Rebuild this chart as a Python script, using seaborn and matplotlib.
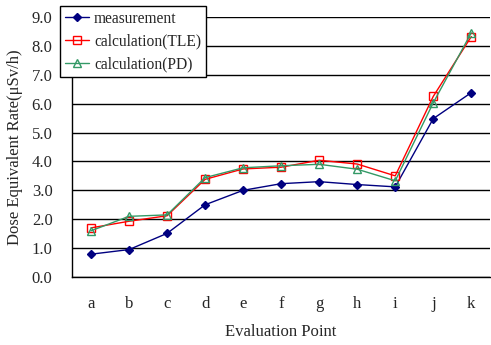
import matplotlib
matplotlib.use("Agg")
import matplotlib.pyplot as plt
import seaborn as sns
import pandas as pd
import numpy as np

points = ["a", "b", "c", "d", "e", "f", "g", "h", "i", "j", "k"]
measurement = [0.79, 0.95, 1.51, 2.50, 3.00, 3.23, 3.30, 3.20, 3.12, 5.48, 6.38]
calc_tle = [1.70, 1.93, 2.12, 3.38, 3.74, 3.80, 4.04, 3.91, 3.50, 6.25, 8.32]
calc_pd = [1.60, 2.10, 2.15, 3.44, 3.78, 3.85, 3.90, 3.73, 3.33, 6.03, 8.45]
yticks = [0.0, 1.0, 2.0, 3.0, 4.0, 5.0, 6.0, 7.0, 8.0, 9.0]

sns.set_style("white")
plt.rcParams["font.family"] = ["Liberation Serif", "DejaVu Serif"]

fig = plt.figure(figsize=(4.91, 3.45), dpi=100)
ax = fig.add_axes([0.1466, 0.197, 0.852, 0.754])

x = np.arange(len(points))
series = [
    ("measurement", measurement, "#000080", "D", "#000080", 4),
    ("calculation(TLE)", calc_tle, "#FF0000", "s", "none", 6),
    ("calculation(PD)", calc_pd, "#339966", "^", "none", 6),
]
for name, vals, col, mk, mfc, ms in series:
    df = pd.DataFrame({"x": x, "y": vals})
    sns.lineplot(data=df, x="x", y="y", ax=ax, color=col, marker=mk,
                 markersize=ms, markerfacecolor=mfc, markeredgecolor=col,
                 markeredgewidth=1.0, linewidth=1.0, label=name)

ax.set_xlim(-0.5, len(points) - 0.5)
ax.set_ylim(0, 9)
ax.set_yticks(yticks)
ax.set_yticklabels([f"{v:.1f}" for v in yticks], fontsize=12)
ax.yaxis.grid(True, color="black", linewidth=1.0)
ax.set_axisbelow(True)
ax.set_xticks(x)
ax.set_xticklabels(points, fontsize=12)
ax.set_xticks(np.arange(0.5, len(points) - 0.5, 1.0), minor=True)
ax.tick_params(axis="x", which="major", length=0, pad=14)
ax.tick_params(axis="x", which="minor", length=4, direction="in", color="black", width=1)
ax.tick_params(axis="y", length=0, pad=14)
for s in ["top", "right"]:
    ax.spines[s].set_visible(False)
for s in ["left", "bottom"]:
    ax.spines[s].set_color("black")
    ax.spines[s].set_linewidth(1.0)

ax.set_xlabel("Evaluation Point", fontsize=12, labelpad=8)
ax.set_ylabel("Dose Equivalent Rate(μSv/h)", fontsize=12, labelpad=6)

leg = ax.legend(loc="upper left", bbox_to_anchor=(-0.029, 1.042), fontsize=11.2,
                frameon=True, fancybox=False, edgecolor="black", framealpha=1,
                borderaxespad=0, borderpad=0.3, labelspacing=0.45,
                handlelength=1.6, handletextpad=0.3)
leg.get_frame().set_linewidth(1.0)

fig.savefig("out.png", dpi=100)
